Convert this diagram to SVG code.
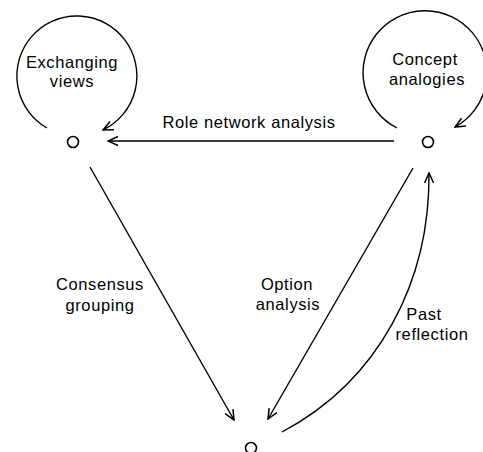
<svg xmlns="http://www.w3.org/2000/svg" width="483" height="452" viewBox="0 0 483 452">
<style>
.t{font-family:"Liberation Sans",Arial,sans-serif;font-size:16.5px;letter-spacing:0.6px;fill:#000;text-anchor:middle}
.c{fill:none;stroke:#000;stroke-width:1.4}
.n{fill:#fff;stroke:#000;stroke-width:1.6}
</style>
<defs>
<marker id="ah" viewBox="0 0 12 12" refX="11" refY="6" markerWidth="12" markerHeight="12" markerUnits="userSpaceOnUse" orient="auto">
<path d="M1,1.5 L11,6 L1,10.5" fill="none" stroke="#000" stroke-width="1.5"/>
</marker>
</defs>
<rect width="483" height="452" fill="#fff"/>
<g id="connectors">
<path class="c" d="M47,128 A60,60 0 1 1 103,130" marker-end="url(#ah)"/>
<path class="c" d="M397,128 A62,62 0 1 1 455,127" marker-end="url(#ah)"/>
<line class="c" x1="394" y1="141" x2="108" y2="141" marker-end="url(#ah)"/>
<line class="c" x1="90" y1="167" x2="234" y2="420" marker-end="url(#ah)"/>
<line class="c" x1="413" y1="168" x2="268" y2="419" marker-end="url(#ah)"/>
<path class="c" d="M282,432 C380,380 430,280 429,173" marker-end="url(#ah)"/>
<text class="t" x="249" y="128">Role network analysis</text>
<text class="t" x="100" y="290">Consensus</text>
<text class="t" x="100" y="311">grouping</text>
<text class="t" x="287" y="290">Option</text>
<text class="t" x="288" y="310">analysis</text>
<text class="t" x="424" y="320">Past</text>
<text class="t" x="432" y="340">reflection</text>
</g>
<g id="node-exchanging">
<circle class="n" cx="73" cy="142" r="5.5"/>
<text class="t" x="72" y="68">Exchanging</text>
<text class="t" x="72" y="87">views</text>
</g>
<g id="node-concept">
<circle class="n" cx="428" cy="142" r="5.5"/>
<text class="t" x="425" y="65">Concept</text>
<text class="t" x="427" y="85">analogies</text>
</g>
<g id="node-bottom">
<circle class="n" cx="251" cy="448" r="5.5"/>
</g>
</svg>
